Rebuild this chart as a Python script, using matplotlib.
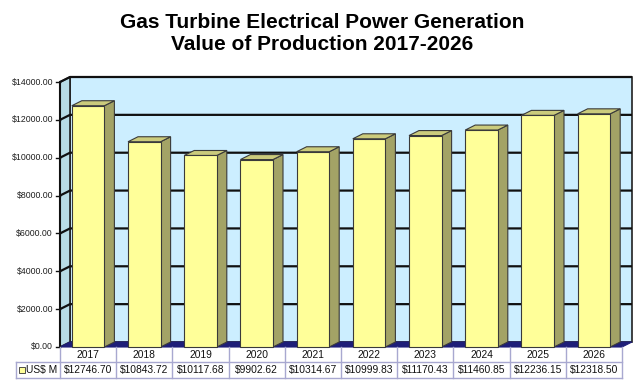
import numpy as np
import matplotlib.pyplot as plt
from matplotlib.patches import Polygon, Rectangle

plt.rcParams['font.family'] = ['Liberation Sans', 'DejaVu Sans']

years = ["2017", "2018", "2019", "2020", "2021", "2022", "2023", "2024", "2025", "2026"]
values = [12746.70, 10843.72, 10117.68, 9902.62, 10314.67, 10999.83, 11170.43, 11460.85, 12236.15, 12318.50]
yticks = [0, 2000, 4000, 6000, 8000, 10000, 12000, 14000]
series = "US$ M"
title = "Gas Turbine Electrical Power Generation\nValue of Production 2017-2026"

W, H = 644, 392
fig = plt.figure(figsize=(W / 100, H / 100), dpi=100)
# front plane of the plot area, in pixels
left, right, top, bottom = 60, 622, 82, 347
ax = fig.add_axes([left / W, 1 - bottom / H, (right - left) / W, (bottom - top) / H])
n = len(years)
ymax = 14000
ax.set_xlim(-0.5, n - 0.5)
ax.set_ylim(0, ymax)
ax.axis("off")

# depth offset (10 px right, 5 px up) in data units
px_x = n / (right - left)
px_y = ymax / (bottom - top)
dx, dy = 10 * px_x, 5 * px_y

x0, x1 = -0.5, n - 0.5
# back wall
ax.add_patch(Polygon([(x0 + dx, dy), (x1 + dx, dy), (x1 + dx, ymax + dy), (x0 + dx, ymax + dy)],
                     closed=True, fc="#CCEEFF", ec="#202020", lw=1.2, clip_on=False, zorder=1))
# side wall
ax.add_patch(Polygon([(x0, 0), (x0 + dx, dy), (x0 + dx, ymax + dy), (x0, ymax)],
                     closed=True, fc="#B8DCE6", ec="#202020", lw=1.2, clip_on=False, zorder=1))
# floor
ax.add_patch(Polygon([(x0, 0), (x1, 0), (x1 + dx, dy), (x0 + dx, dy)],
                     closed=True, fc="#1E1E78", ec="#1E1E78", lw=0.8, clip_on=False, zorder=1))

# gridlines
for v in yticks[1:]:
    ax.plot([x0, x0 + dx, x1 + dx], [v, v + dy, v + dy], color="#101010", lw=1.6,
            clip_on=False, zorder=2, solid_capstyle="butt")
ax.plot([x0, x0], [0, ymax], color="#101010", lw=1.5, clip_on=False, zorder=2)
for v in yticks:
    ax.plot([x0 - 4 * px_x, x0], [v, v], color="#101010", lw=1, clip_on=False, zorder=2)
    ax.text(x0 - 7 * px_x, v, "$%.2f" % v, ha="right", va="center", fontsize=6.3, color="#202020")

# bars
bw = 0.58
edge = "#3A3A3A"
for i, v in enumerate(values):
    l, r = i - bw / 2, i + bw / 2
    ax.add_patch(Polygon([(r, 0), (r + dx, dy), (r + dx, v + dy), (r, v)], closed=True,
                         fc="#A3A366", ec=edge, lw=0.8, clip_on=False, zorder=3))
    ax.add_patch(Polygon([(l, v), (r, v), (r + dx, v + dy), (l + dx, v + dy)], closed=True,
                         fc="#CBCB7C", ec=edge, lw=0.8, clip_on=False, zorder=3))
    ax.add_patch(Rectangle((l, 0), bw, v, fc="#FFFF99", ec=edge, lw=0.8, clip_on=False, zorder=4))

# data table
row1 = 15 * px_y
row2 = 31 * px_y
tab_left = x0 - 44 * px_x
tc = "#A8A8D0"
ax.plot([tab_left, x1], [-row1, -row1], color=tc, lw=1, clip_on=False)
ax.plot([tab_left, x1], [-row2, -row2], color=tc, lw=1, clip_on=False)
ax.plot([tab_left, tab_left], [-row1, -row2], color=tc, lw=1, clip_on=False)
for k in range(n + 1):
    ax.plot([x0 + k, x0 + k], [0, -row2], color=tc, lw=1, clip_on=False)
for i, (yr, v) in enumerate(zip(years, values)):
    ax.text(i, -row1 / 2, yr, ha="center", va="center", fontsize=7.4, color="#111111")
    ax.text(i, (-row1 - row2) / 2, "$%.2f" % v, ha="center", va="center", fontsize=7.4, color="#111111")
ax.add_patch(Rectangle((tab_left + 3 * px_x, -(row1 + row2) / 2 - 3 * px_y), 6 * px_x, 6 * px_y,
                       fc="#FFFF99", ec="#333333", lw=0.6, clip_on=False))
ax.text(tab_left + 10 * px_x, (-row1 - row2) / 2, series, ha="left", va="center", fontsize=7.4, color="#111111")

fig.text(0.5, 1 - 33 / H, title, ha="center", va="center", fontsize=15, fontweight="bold",
         linespacing=1.2)

fig.savefig("out.png", dpi=100)
